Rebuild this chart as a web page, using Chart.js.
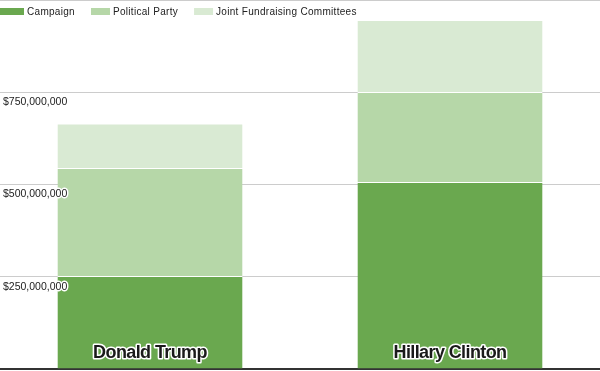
<!DOCTYPE html>
<html>
<head>
<meta charset="utf-8">
<script src="https://cdn.jsdelivr.net/npm/chart.js@4/dist/chart.umd.min.js"></script>
<style>
  html, body { margin: 0; padding: 0; background: #fff; }
  #wrap { width: 600px; height: 371px; }
</style>
</head>
<body>
<div id="wrap"><canvas id="chart"></canvas></div>
<script>
// data (USD)
const candidates = ['Donald Trump', 'Hillary Clinton'];
const campaign = [252000000, 507000000];
const party = [293000000, 244000000];
const jointCommittees = [120000000, 195000000];
const yTicks = [250000000, 500000000, 750000000];
const yMax = 1000000000;

const seriesNames = ['Campaign', 'Political Party', 'Joint Fundraising Committees'];
const colors = ['#6aa84f', '#b6d7a8', '#d9ead3'];

// legend drawn over the plot, top-left
const topLegend = {
  id: 'topLegend',
  afterDraw(chart) {
    const ctx = chart.ctx;
    ctx.save();
    ctx.font = '10px "Liberation Sans", Arial, sans-serif';
    ctx.letterSpacing = '0.3px';
    ctx.textBaseline = 'middle';
    let x = 0;
    chart.data.datasets.forEach((ds, i) => {
      const w = i === 0 ? 24 : 19;
      ctx.fillStyle = ds.backgroundColor;
      ctx.fillRect(x, 8, w, 7);
      x += w + 3;
      ctx.fillStyle = '#222';
      ctx.fillText(ds.label, x, 12);
      x += ctx.measureText(ds.label).width + 16;
    });
    ctx.restore();
  }
};

// candidate names inside the bars
const barNames = {
  id: 'barNames',
  afterDatasetsDraw(chart) {
    const ctx = chart.ctx;
    const xs = chart.scales.x;
    const bottom = chart.chartArea.bottom;
    ctx.save();
    ctx.font = 'bold 18px "Liberation Sans", Arial, sans-serif';
    ctx.letterSpacing = '-0.6px';
    ctx.textAlign = 'center';
    ctx.textBaseline = 'alphabetic';
    ctx.lineJoin = 'round';
    chart.data.labels.forEach((lab, i) => {
      const x = xs.getPixelForValue(i);
      ctx.strokeStyle = '#fff';
      ctx.lineWidth = 3;
      ctx.strokeText(lab, x, bottom - 11);
      ctx.fillStyle = '#1a1a1a';
      ctx.fillText(lab, x, bottom - 11);
    });
    ctx.restore();
  }
};

const ctx = document.getElementById('chart').getContext('2d');
new Chart(ctx, {
  type: 'bar',
  data: {
    labels: candidates,
    datasets: [campaign, party, jointCommittees].map((d, i) => ({
      label: seriesNames[i],
      data: d,
      backgroundColor: colors[i],
      borderColor: '#ffffff',
      borderWidth: { top: 1, left: 0, right: 0, bottom: 0 },
      borderSkipped: false,
      categoryPercentage: 1,
      barPercentage: 0.617
    }))
  },
  options: {
    responsive: true,
    maintainAspectRatio: false,
    animation: false,
    layout: { padding: { top: 0, bottom: 2, left: 0, right: 0 } },
    plugins: {
      legend: { display: false },
      tooltip: { enabled: false }
    },
    scales: {
      x: {
        stacked: true,
        grid: { display: false, drawTicks: false },
        border: { display: true, color: '#333', width: 2 },
        ticks: { display: false }
      },
      y: {
        stacked: true,
        min: 0,
        max: yMax,
        afterFit: s => { s.width = 0; s.paddingTop = 0; s.paddingBottom = 0; },
        afterBuildTicks: s => { s.ticks = [0].concat(yTicks, [yMax]).map(v => ({ value: v })); },
        grid: { color: '#cccccc', drawTicks: false },
        border: { display: false },
        ticks: {
          z: 1, // labels over the bars, grid stays behind
          mirror: true,
          padding: 3,
          labelOffset: 10,
          color: '#222',
          font: { family: '"Liberation Sans", Arial, sans-serif', size: 10.5 },
          textStrokeColor: '#fff',
          textStrokeWidth: 3,
          callback: v => yTicks.includes(v) ? '$' + v.toLocaleString('en-US') : ''
        }
      }
    }
  },
  plugins: [topLegend, barNames]
});
</script>
</body>
</html>
